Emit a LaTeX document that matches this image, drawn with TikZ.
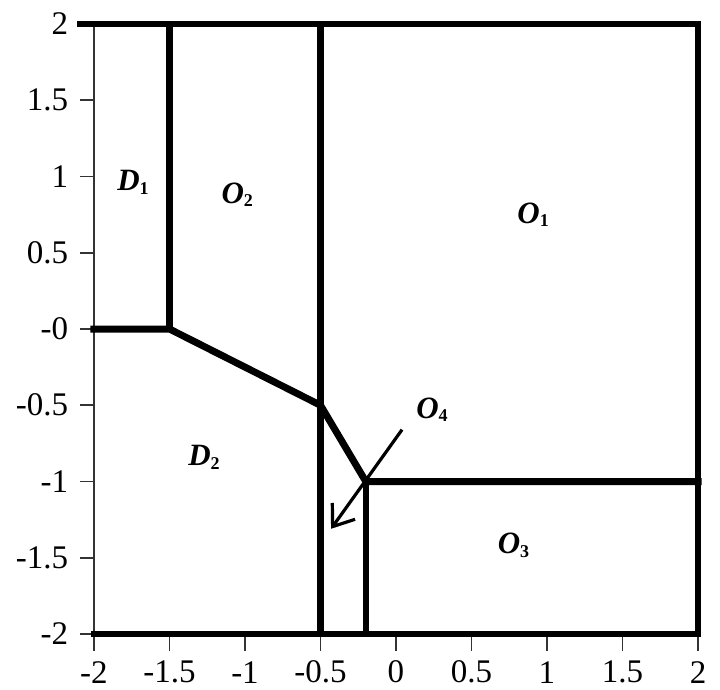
\documentclass[tikz,border=0pt]{standalone}
\usepackage{fontspec}
\setmainfont{Liberation Serif}
\usetikzlibrary{arrows.meta}
\begin{document}
\begin{tikzpicture}[x=151pt,y=152.5pt,
  thickln/.style={line width=6.5pt,line cap=rect},
  thinln/.style={line width=1.6pt,color=black!80},
  ticklab/.style={font=\fontsize{33}{36}\selectfont,inner sep=0pt},
  region/.style={font=\fontsize{31}{34}\selectfont\bfseries\itshape,inner sep=0pt}]
\useasboundingbox (-2.6225,2.1574) rectangle (2.1457,-2.3607);
% axes
\draw[thinln] (-2,-2) -- (-2,2);
\foreach \v/\t in {2/2,1.5/1.5,1/1,0.5/0.5,0/-0,-0.5/-0.5,-1/-1,-1.5/-1.5,-2/-2}{
  \draw[thinln] (-2.093,\v) -- (-2,\v);
  \node[ticklab,anchor=east] (yl\v) at (-2.17,\v) {\t};
}
\foreach \v/\t in {-2/-2,-1.5/-1.5,-1/-1,-0.5/-0.5,0/0,0.5/0.5,1/1,1.5/1.5,2/2}{
  \draw[thinln] (\v,-2) -- (\v,-2.11);
  \node[ticklab] (xl\v) at (\v,-2.25) {\t};
}
% frame
\coordinate (tl) at (-2.093,2);
\coordinate (tr) at (2,2);
\coordinate (br) at (2,-2);
\coordinate (bl) at (-2,-2);
\draw[thickln] (tl) -- (tr) -- (br) -- (bl);
% partition lines
\coordinate (a) at (-2,0);
\coordinate (b) at (-1.5,0);
\coordinate (c) at (-0.5,-0.5);
\coordinate (d) at (-0.2,-1);
\coordinate (e) at (2,-1);
\draw[thickln,line width=7pt,line join=miter] (a) -- (b) -- (c) -- (d) -- (e);
\draw[thickln] (-1.5,2) -- (b);
\draw[thickln] (-0.5,2) -- (-0.5,-2);
\draw[thickln] (d) -- (-0.2,-2);
% arrow
\coordinate (as) at (0.04,-0.66);
\coordinate (ae) at (-0.43,-1.31);
\draw[line width=3.2pt,-{Straight Barb[length=19pt,width=28pt,line width=3.2pt]}] (as) -- (ae);
% region labels
\node[region] (D1) at (-1.74,0.96) {D\textsubscript{\fontsize{18}{20}\selectfont\upshape 1}};
\node[region] (O2) at (-1.05,0.88) {O\textsubscript{\fontsize{18}{20}\selectfont\upshape 2}};
\node[region] (O1) at (0.91,0.75) {O\textsubscript{\fontsize{18}{20}\selectfont\upshape 1}};
\node[region] (O4) at (0.24,-0.53) {O\textsubscript{\fontsize{18}{20}\selectfont\upshape 4}};
\node[region] (D2) at (-1.27,-0.84) {D\textsubscript{\fontsize{18}{20}\selectfont\upshape 2}};
\node[region] (O3) at (0.78,-1.42) {O\textsubscript{\fontsize{18}{20}\selectfont\upshape 3}};
\end{tikzpicture}
\end{document}
